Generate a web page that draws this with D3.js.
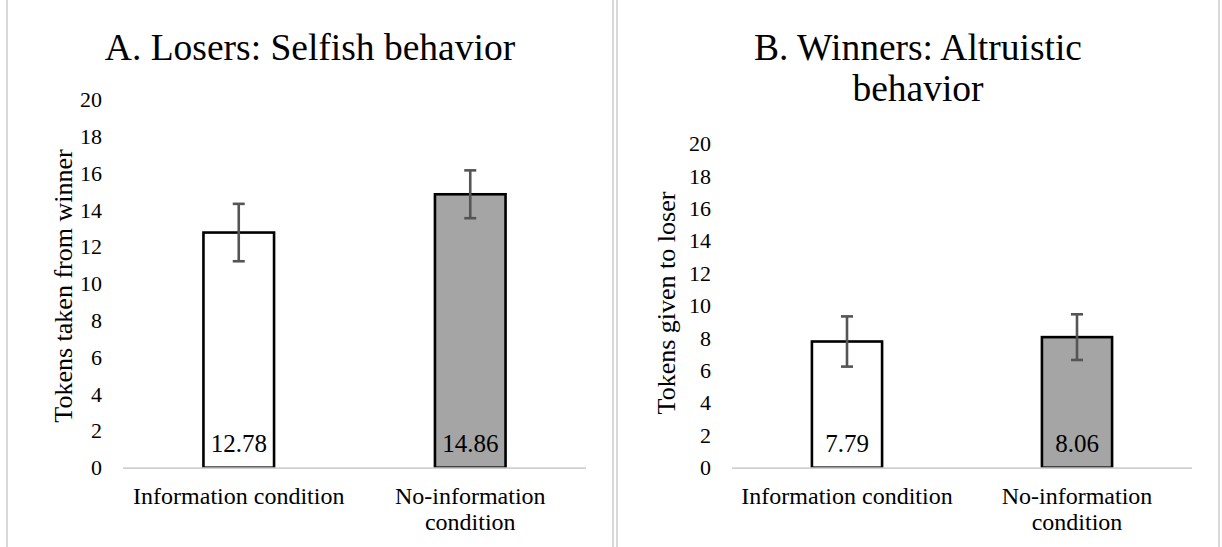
<!DOCTYPE html>
<html>
<head>
<meta charset="utf-8">
<script src="https://cdn.jsdelivr.net/npm/d3@7"></script>
<style>
  html, body { margin: 0; padding: 0; background: #fff; }
</style>
</head>
<body>
<svg id="chart" width="1222" height="547"></svg>
<script>
// ---- Data ----
const categories = ["Information condition", "No-information condition"];
const categoryLines = [["Information condition"], ["No-information", "condition"]];
const yTicks = [0, 2, 4, 6, 8, 10, 12, 14, 16, 18, 20];

const losersValues = [12.78, 14.86];
const losersErrors = [1.56, 1.30];

const winnersValues = [7.79, 8.06];
const winnersErrors = [1.55, 1.41];

const panelTitles = [["A. Losers: Selfish behavior"], ["B. Winners: Altruistic", "behavior"]];
const yTitles = ["Tokens taken from winner", "Tokens given to loser"];
const barFills = ["#ffffff", "#a5a5a5"];

const FONT = "'Liberation Serif', 'Tinos', 'DejaVu Serif', 'Noto Serif', serif";

// ---- Layout ----
const svg = d3.select("#chart");

// panel frame lines
[7, 613, 617, 1219].forEach(x => {
  svg.append("line").attr("x1", x).attr("x2", x).attr("y1", 0).attr("y2", 547)
    .attr("stroke", "#d9d9d9").attr("stroke-width", 2);
});

const panels = [
  { values: losersValues, errors: losersErrors, title: panelTitles[0], ytitle: yTitles[0],
    cx: 310, x0: 123, x1: 586, yTop: 99.7, yBot: 467.7, ytx: 63, yty: 286 },
  { values: winnersValues, errors: winnersErrors, title: panelTitles[1], ytitle: yTitles[1],
    cx: 918, x0: 732, x1: 1192, yTop: 143.7, yBot: 467.7, ytx: 666, yty: 303 }
];

panels.forEach(p => {
  const g = svg.append("g").attr("font-family", FONT);
  const x = d3.scaleBand().domain(categories).range([p.x0, p.x1]).padding(0);
  const y = d3.scaleLinear().domain([0, 20]).range([p.yBot, p.yTop]);
  const bw = x.bandwidth() * 0.305;

  // title
  const t = g.append("text").attr("x", p.cx).attr("y", 60)
    .attr("text-anchor", "middle").attr("font-family", FONT).attr("font-size", 37.5);
  p.title.forEach((line, i) => {
    t.append("tspan").attr("x", p.cx).attr("dy", i === 0 ? 0 : 41).text(line);
  });

  // y axis labels
  const ax = g.append("g").attr("transform", `translate(${p.x0},0)`)
    .call(d3.axisLeft(y).tickValues(yTicks).tickSize(0).tickPadding(21));
  ax.attr("font-family", FONT).attr("font-size", 22);
  ax.select(".domain").remove();
  ax.selectAll("text").attr("fill", "#000");

  // y title
  g.append("text").attr("transform", `translate(${p.ytx},${p.yty}) rotate(-90)`)
    .attr("text-anchor", "middle").attr("dy", "0.35em")
    .attr("font-family", FONT).attr("font-size", 26).text(p.ytitle);

  // bars
  const data = categories.map((c, i) => ({ c, v: p.values[i], e: p.errors[i], i }));
  g.selectAll("rect.bar").data(data).enter().append("rect")
    .attr("class", "bar")
    .attr("x", d => x(d.c) + x.bandwidth() / 2 - bw / 2)
    .attr("width", bw)
    .attr("y", d => y(d.v))
    .attr("height", d => y(0) - y(d.v))
    .attr("fill", d => barFills[d.i])
    .attr("stroke", "#000").attr("stroke-width", 2.6);

  // axis baseline
  g.append("line").attr("x1", p.x0).attr("x2", p.x1)
    .attr("y1", y(0) + 0.5).attr("y2", y(0) + 0.5)
    .attr("stroke", "#d0d0d0").attr("stroke-width", 1.8);

  // error bars
  const cap = 6;
  data.forEach(d => {
    const cxb = x(d.c) + x.bandwidth() / 2;
    const eg = g.append("g").attr("stroke", "#555555").attr("stroke-width", 2.6);
    eg.append("line").attr("x1", cxb).attr("x2", cxb).attr("y1", y(d.v + d.e)).attr("y2", y(d.v - d.e));
    eg.append("line").attr("x1", cxb - cap).attr("x2", cxb + cap).attr("y1", y(d.v + d.e)).attr("y2", y(d.v + d.e));
    eg.append("line").attr("x1", cxb - cap).attr("x2", cxb + cap).attr("y1", y(d.v - d.e)).attr("y2", y(d.v - d.e));
  });

  // value labels
  g.selectAll("text.val").data(data).enter().append("text")
    .attr("class", "val")
    .attr("x", d => x(d.c) + x.bandwidth() / 2)
    .attr("y", y(0) - 16)
    .attr("text-anchor", "middle").attr("font-family", FONT).attr("font-size", 25)
    .text(d => d.v.toFixed(2));

  // category labels
  data.forEach(d => {
    const cxb = x(d.c) + x.bandwidth() / 2;
    const tt = g.append("text").attr("x", cxb).attr("y", 504)
      .attr("text-anchor", "middle").attr("font-family", FONT).attr("font-size", 24);
    categoryLines[d.i].forEach((line, k) => {
      tt.append("tspan").attr("x", cxb).attr("dy", k === 0 ? 0 : 26).text(line);
    });
  });
});
</script>
</body>
</html>
